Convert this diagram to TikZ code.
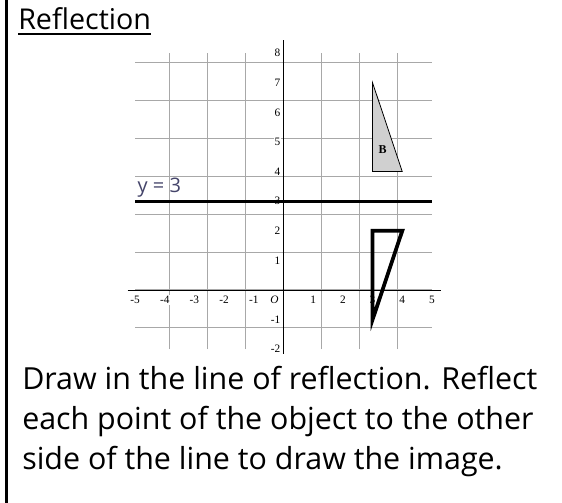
\documentclass[tikz,border=0pt]{standalone}
\usepackage{fontspec}
\setmainfont{Open Sans}
\newfontfamily\tickfont{Liberation Serif}
\usetikzlibrary{positioning}
\definecolor{gridgray}{HTML}{A8A8A8}
\definecolor{shadeB}{HTML}{D0D0D0}
\definecolor{pen}{HTML}{44446A}
\tikzset{
  gridline/.style={draw=gridgray, line width=0.8pt},
  axisline/.style={draw=black, line width=0.6pt},
  tick/.style={font=\tickfont\fontsize{8.5}{9}\selectfont, fill=white, inner sep=0.8pt},
  heading/.style={font=\fontsize{21.5}{26}\selectfont, inner sep=0pt},
  body/.style={font=\fontsize{22.8}{30}\selectfont, align=left, inner sep=0pt},
  mirror/.style={draw=black, line width=2.2pt},
  object/.style={draw=black, fill=shadeB, line width=0.6pt},
  image/.style={draw=black, line width=2.8pt, line join=miter},
}

\begin{document}
\begin{tikzpicture}[x=0.75pt,y=0.75pt]
  \useasboundingbox (0,0) rectangle (562,503);
  \fill[white] (0,0) rectangle (562,503);
  \draw[line width=1.5pt] (6.5,0) -- (6.5,503);

  \node[heading, anchor=base west] (title) at (18,473) {Reflection};
  \draw[line width=1.6pt] ([yshift=-3.2pt]title.base west) -- ([yshift=-3.2pt]title.base east);

  \begin{scope}[shift={(283.5,213)}, x=22.27pt, y=22.2pt]
    \draw[gridline] (-5,-2) grid (5,8);
    \draw[axisline] (-5.25,0) -- (5.3,0);
    \draw[axisline] (0,-2.15) -- (0,8.45);
    \foreach \y in {-2,-1,1,2,...,8}
      \node[tick, anchor=east] (ytick\y) at (-0.06,\y) {\y};
    \foreach \x in {-5,...,-1,1,2,...,5}
      \node[tick] (xtick\x) at (\x,-0.34) {\x};
    \node[tick] (origin) at (-0.3,-0.34) {\itshape O};

    \coordinate (b1) at (3,7);
    \coordinate (b2) at (3,4);
    \coordinate (b3) at (4,4);
    \filldraw[object] (b1) -- (b2) -- (b3) -- cycle;
    \node[font=\tickfont\bfseries\fontsize{9}{10}\selectfont] (blabel) at (3.34,4.73) {B};

    \coordinate (mirrorL) at (-5,3);
    \coordinate (mirrorR) at (5,3);
    \draw[mirror] (mirrorL) -- (mirrorR);
    \node[font=\fontsize{15}{16}\selectfont, text=pen, anchor=west, inner sep=0pt] (mirrorlab) at (-4.92,3.45) {y = 3};

    \coordinate (i1) at (3,2);
    \coordinate (i2) at (4,2);
    \coordinate (i3) at (3,-1);
    \draw[image] (i1) -- (i2) -- (i3) -- cycle;
  \end{scope}

  \node[body, anchor=base west] (task) at (22,33) {Draw in the line of reflection. Reflect\\each point of the object to the other\\side of the line to draw the image.};
\end{tikzpicture}
\end{document}
